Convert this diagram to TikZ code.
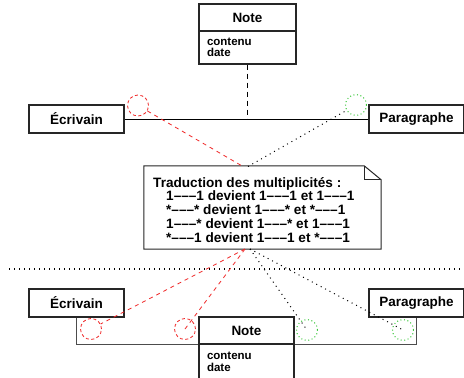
\documentclass[tikz,border=0pt]{standalone}
\usepackage{fontspec}
\setmainfont{Liberation Sans}
\usetikzlibrary{calc}
\definecolor{assocred}{RGB}{240,40,40}
\definecolor{assocgreen}{RGB}{60,200,60}
\begin{document}
\begin{tikzpicture}[x=1pt,y=-1pt,
  box/.style={draw=black!85, line width=1.2pt, fill=white, inner sep=0pt,
    font=\fontsize{13.5}{16}\selectfont\bfseries},
  attrbox/.style={draw=black!85, line width=1.2pt, fill=white, inner xsep=7pt,
    text width=81pt, align=left, minimum width=97pt,
    font=\fontsize{11.5}{11.5}\selectfont\bfseries},
  assoc/.style={draw=black, line width=1pt},
  redcirc/.style={circle, draw=assocred, line width=0.8pt, dash pattern=on 3pt off 2.5pt,
    minimum size=21pt, inner sep=0pt},
  greencirc/.style={circle, draw=assocgreen, line width=1pt, dash pattern=on 1pt off 2.6pt,
    minimum size=21pt, inner sep=0pt},
  reddash/.style={draw=assocred, line width=0.8pt, dash pattern=on 4pt off 4pt},
  blackdot/.style={draw=black, line width=1pt, dash pattern=on 1pt off 4pt},
  commentline/.style={draw=black!85, line width=1pt, fill=white}]
\clip (0,0) rectangle (464,378);
\fill[white] (0,0) rectangle (464,378);

% ---------- upper diagram ----------
\node[box, minimum width=95pt, minimum height=28pt] (ecr1) at (76.5,119) {Écrivain};
\node[box, minimum width=95pt, minimum height=28pt] (par1) at (416.5,119) {Paragraphe};
\draw[assoc] (ecr1.east) -- (par1.west);
\node[box, minimum width=97pt, minimum height=27pt] (note1) at (247.5,17.5) {Note};
\node[attrbox, minimum height=33pt] (note1a) at (247.5,47.5) {contenu\\date};
\coordinate (mid1) at (note1a.south |- ecr1.east);
\draw[draw=black, line width=1.2pt, dash pattern=on 5pt off 4pt] (note1a.south) -- (mid1);

\node[redcirc] (r1) at (138,105.5) {};
\node[greencirc] (g1) at (356,105) {};

% ---------- comment ----------
\node[minimum width=237pt, minimum height=83pt, inner sep=0pt] (comment) at (262.5,207.5) {};
\draw[commentline] (comment.north west) -- ($(comment.north east)+(-17,0)$)
  -- ($(comment.north east)+(0,14)$) -- (comment.south east) -- (comment.south west) -- cycle;
\draw[draw=black!85, line width=1pt] ($(comment.north east)+(-17,0)$) -- ($(comment.north east)+(-17,14)$)
  -- ($(comment.north east)+(0,14)$);
\node[anchor=base west, inner sep=0pt, font=\fontsize{13.6}{13.5}\selectfont\bfseries] (ctext) at (153,187)
  {\begin{tabular}[t]{@{}l@{}}
   Traduction des multiplicités :\\
   \hspace*{13pt}1–––1 devient 1–––1 et 1–––1\\
   \hspace*{13pt}*–––* devient 1–––* et *–––1\\
   \hspace*{13pt}1–––* devient 1–––* et 1–––1\\
   \hspace*{13pt}*–––1 devient 1–––1 et *–––1
   \end{tabular}};

\coordinate (ctr) at (243,166.5);
\coordinate (ctb) at (248,166.5);
\coordinate (cbr) at (245,249);
\coordinate (cbb) at (250,249);
\draw[reddash] (r1) -- (ctr);
\draw[blackdot] (ctb) -- (g1);

% ---------- separator ----------
\coordinate (sepL) at (9,269);
\coordinate (sepR) at (464,269);
\draw[draw=black, line width=1.4pt, dash pattern=on 1.4pt off 3.6pt] (sepL) -- (sepR);

% ---------- lower diagram ----------
\node[box, minimum width=95pt, minimum height=28pt] (ecr2) at (76.5,303) {Écrivain};
\node[box, minimum width=95pt, minimum height=28pt] (par2) at (416.5,303) {Paragraphe};
\draw[assoc, line width=1.2pt, draw=black!70] (ecr2.south) -- ++(0,27) -| (par2.south);
\node[box, minimum width=95pt, minimum height=27pt] (note2) at (246.5,330.5) {Note};
\node[attrbox, minimum width=95pt, text width=79pt, minimum height=36pt] (note2a) at (246.5,362) {contenu\\date};

\node[redcirc] (r3) at (91,329) {};
\node[redcirc] (r4) at (185,329) {};
\node[greencirc] (g3) at (307,330) {};
\node[greencirc] (g4) at (403,330) {};

\draw[reddash] (cbr) -- (r3);
\draw[reddash] (cbr) -- (r4.center);
\draw[blackdot] (cbb) -- (g3.center);
\draw[blackdot] (cbb) -- (g4.center);
\end{tikzpicture}
\end{document}
